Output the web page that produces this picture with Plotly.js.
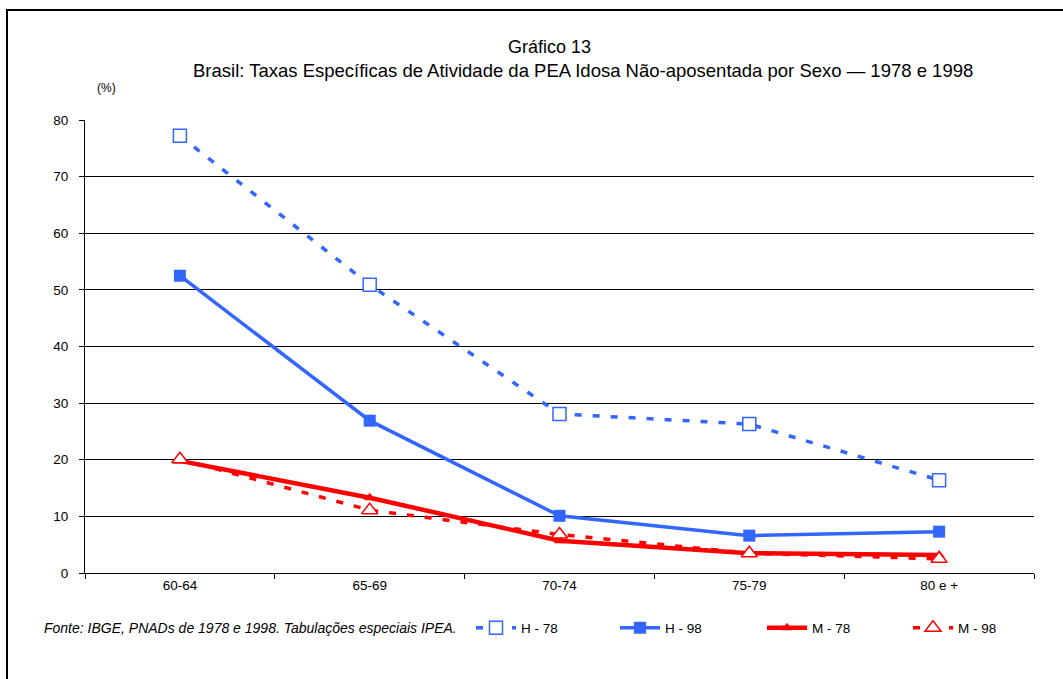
<!DOCTYPE html>
<html>
<head>
<meta charset="utf-8">
<script src="https://cdn.plot.ly/plotly-3.0.1.min.js"></script>
<style>html,body{margin:0;padding:0;background:#fff;}#chart{width:1063px;height:679px;}</style>
</head>
<body>
<div id="chart"></div>
<script>
const categories = ["60-64", "65-69", "70-74", "75-79", "80 e +"];
const h78 = [77.2, 50.9, 28.1, 26.3, 16.4];
const h98 = [52.5, 26.9, 10.1, 6.6, 7.3];
const m78 = [19.8, 13.3, 5.7, 3.5, 3.2];
const m98 = [20.1, 11.1, 6.8, 3.5, 2.5];
const seriesNames = ["H - 78", "H - 98", "M - 78", "M - 98"];

const BLUE = "#3366FF", RED = "#FF0000";
const FONT = "Liberation Sans, Arial, sans-serif";

const traces = [
  {x: categories, y: h78, name: seriesNames[0], mode: "lines+markers", legend: "legend",
   line: {color: BLUE, width: 3.5, dash: "7px,11px"},
   marker: {symbol: "square", size: 13, color: "#fff", line: {width: 1.5, color: BLUE}}},
  {x: categories, y: h98, name: seriesNames[1], mode: "lines+markers", legend: "legend2",
   line: {color: BLUE, width: 3.5},
   marker: {symbol: "square", size: 12, color: BLUE}},
  {x: categories, y: m78, name: seriesNames[2], mode: "lines+markers", legend: "legend3",
   line: {color: RED, width: 4.5},
   marker: {symbol: "triangle-up", size: 10, color: RED}},
  {x: categories, y: m98, name: seriesNames[3], mode: "lines+markers", legend: "legend4",
   line: {color: RED, width: 3.5, dash: "7px,11px"},
   marker: {symbol: "triangle-up", size: 14, color: "#fff", line: {width: 1.5, color: RED}}}
];

const legendY = (573 - 628) / 453;
function mkLegend(px) {
  return {orientation: "h", xref: "paper", yref: "paper", x: (px - 85) / 949, xanchor: "left",
          y: legendY, yanchor: "middle", font: {family: FONT, size: 13.5},
          itemwidth: 40, bgcolor: "rgba(0,0,0,0)", borderwidth: 0};
}

const layout = {
  width: 1063, height: 679,
  margin: {l: 85, r: 29, t: 120, b: 106},
  paper_bgcolor: "#fff", plot_bgcolor: "#fff",
  font: {family: FONT, size: 13.5, color: "#000"},
  showlegend: true,
  legend: mkLegend(471),
  legend2: mkLegend(615),
  legend3: mkLegend(762),
  legend4: mkLegend(908),
  xaxis: {type: "category", range: [-0.5, 4.5], autorange: false,
          showline: true, linecolor: "#000", linewidth: 1,
          ticks: "outside", tickson: "boundaries", ticklen: 5, tickcolor: "#000",
          showgrid: false, tickfont: {size: 13.5}, fixedrange: true},
  yaxis: {range: [0, 80], dtick: 10, showline: true, linecolor: "#000", linewidth: 1,
          ticks: "outside", ticklen: 5, tickcolor: "#000", showgrid: true,
          gridcolor: "#000", gridwidth: 1, zeroline: false, tickfont: {size: 13.5},
          ticklabelstandoff: 8, fixedrange: true},
  annotations: [
    {text: "Gráfico 13", xref: "paper", yref: "paper", x: (549 - 85) / 949, y: (573 - 47) / 453,
     xanchor: "center", yanchor: "middle", showarrow: false, font: {size: 18}},
    {text: "Brasil: Taxas Específicas de Atividade da PEA Idosa Não-aposentada por Sexo — 1978 e 1998",
     xref: "paper", yref: "paper", x: (583 - 85) / 949, y: (573 - 71) / 453,
     xanchor: "center", yanchor: "middle", showarrow: false, font: {size: 18.5}},
    {text: "(%)", xref: "paper", yref: "paper", x: (106 - 85) / 949, y: (573 - 88) / 453,
     xanchor: "center", yanchor: "middle", showarrow: false, font: {size: 12}},
    {text: "<i>Fonte: IBGE, PNADs de 1978 e 1998. Tabulações especiais IPEA.</i>",
     xref: "paper", yref: "paper", x: (42 - 85) / 949, y: (573 - 628) / 453,
     xanchor: "left", yanchor: "middle", showarrow: false, font: {size: 14}}
  ],
  shapes: [
    {type: "path", xref: "paper", yref: "paper",
     path: `M ${(7 - 85) / 949} ${(573 - 690) / 453} L ${(7 - 85) / 949} ${(573 - 10) / 453} L ${(1070 - 85) / 949} ${(573 - 10) / 453}`,
     line: {color: "#000", width: 2}}
  ]
};

Plotly.newPlot("chart", traces, layout, {displayModeBar: false, staticPlot: true});
</script>
</body>
</html>
